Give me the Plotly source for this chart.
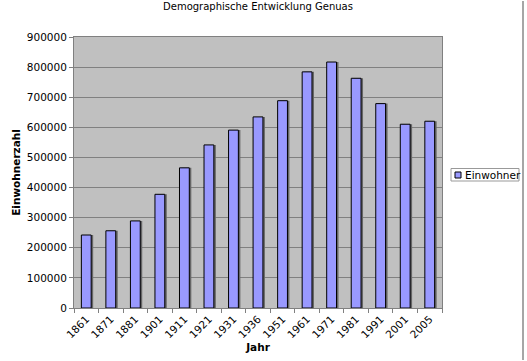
import plotly.graph_objects as go

years = ["1861", "1871", "1881", "1901", "1911", "1921", "1931", "1936",
         "1951", "1961", "1971", "1981", "1991", "2001", "2005"]
population = [242447, 256486, 289234, 377610, 465496, 541562, 590736, 634646,
              688447, 784194, 816872, 762895, 678771, 610307, 620316]
series_name = "Einwohner"

FONT = "DejaVu Sans"
L, R, T, B = 74, 85, 37, 53
W, H = 527, 361
PW, PH = W - L - R, H - T - B
BAR_W = 0.4
SHADOW = 2 / (PW / len(years))  # ~2 px in category units


def px(xp):
    return (xp - L) / PW


def py(yp):
    return (H - B - yp) / PH


fig = go.Figure()
# bar shadow
fig.add_trace(go.Bar(
    x=years, y=population, name="shadow",
    marker=dict(color="#666666", line=dict(width=0)),
    width=BAR_W, offset=-BAR_W / 2 + SHADOW, showlegend=False, hoverinfo="skip",
))
fig.add_trace(go.Bar(
    x=years, y=population, name=series_name,
    marker=dict(color="#9999FF", line=dict(color="#000000", width=1)),
    width=BAR_W, offset=-BAR_W / 2, showlegend=False,
))

fig.update_layout(
    width=W, height=H,
    margin=dict(l=L, r=R, t=T, b=B, autoexpand=False),
    paper_bgcolor="white", plot_bgcolor="#C0C0C0",
    font=dict(family=FONT, size=10.5, color="#000000"),
    title=dict(text="Demographische Entwicklung Genuas", x=0.5, xref="paper",
               xanchor="center", y=1 - 6/H, yanchor="middle",
               font=dict(family=FONT, size=10, color="#000000")),
    showlegend=False,
    barmode="overlay",
)
fig.update_xaxes(
    type="category", tickangle=-45, showgrid=False, automargin=False,
    ticks="outside", ticklen=4, tickcolor="#808080", tickson="boundaries",
    showline=True, linecolor="#808080", linewidth=1, mirror=True,
    title=dict(text="<b>Jahr</b>", font=dict(family=FONT, size=10.5), standoff=4),
)
fig.update_yaxes(
    range=[0, 900000], dtick=100000, tickformat="d", automargin=False,
    showgrid=True, gridcolor="#808080", gridwidth=1,
    ticks="outside", ticklen=4, tickcolor="#808080",
    showline=True, linecolor="#808080", linewidth=1, mirror=True,
    zeroline=False,
    title=dict(text="<b>Einwohnerzahl</b>", font=dict(family=FONT, size=10.5), standoff=4),
)
# chart frame edge on the right
fig.add_shape(type="line", xref="paper", yref="paper",
              x0=px(523), x1=px(523), y0=py(H - 1), y1=py(1),
              line=dict(color="#888888", width=1.5), layer="above")
# legend box (drawn manually to keep the plot area size)
fig.add_shape(type="rect", xref="paper", yref="paper",
              x0=px(451), x1=px(519), y0=py(181), y1=py(168.5),
              line=dict(color="#999999", width=1), fillcolor="white")
fig.add_shape(type="rect", xref="paper", yref="paper",
              x0=px(455), x1=px(461), y0=py(178), y1=py(172),
              line=dict(color="#000000", width=1), fillcolor="#9999FF")
fig.add_annotation(text=series_name, xref="paper", yref="paper",
                   x=px(462.5), y=py(175), xanchor="left", yanchor="middle",
                   showarrow=False, font=dict(family=FONT, size=10.5, color="#000000"))

fig.write_html("out.html", config={"displayModeBar": False},
               post_script="document.body.style.margin='0';document.body.style.overflow='hidden';")
